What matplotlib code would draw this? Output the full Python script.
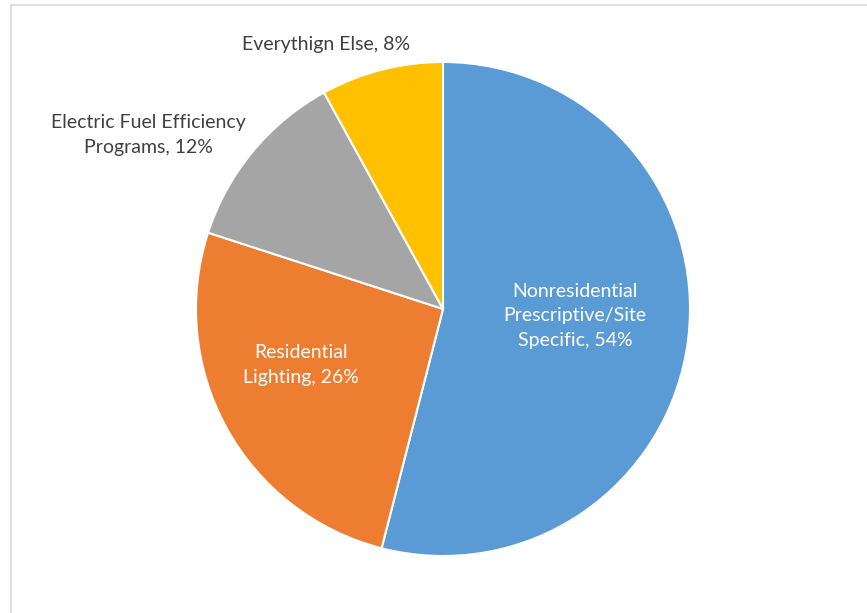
import matplotlib
matplotlib.use("Agg")
import matplotlib.pyplot as plt
from matplotlib.lines import Line2D

# data
labels = ["Nonresidential\nPrescriptive/Site\nSpecific, 54%",
          "Residential\nLighting, 26%",
          "Electric Fuel Efficiency\nPrograms, 12%",
          "Everythign Else, 8%"]
shares = [54, 26, 12, 8]
colors = ["#5B9BD5", "#ED7D31", "#A5A5A5", "#FFC000"]

# label placement (data coords, pie radius = 1)
label_pos = [(0.534, -0.028), (-0.575, -0.227), (-1.194, 0.704), (-0.474, 1.069)]
label_col = ["white", "white", "#404040", "#404040"]

plt.rcParams['font.family'] = ['Lato', 'DejaVu Sans']

fig = plt.figure(figsize=(8.67, 6.13), dpi=100)
ax = fig.add_axes([196 / 867, 57 / 613, 494 / 867, 494 / 613])
ax.pie(shares, colors=colors, startangle=90, counterclock=False,
       wedgeprops=dict(edgecolor="white", linewidth=1.5))
ax.set_xlim(-1.0, 1.0)
ax.set_ylim(-1.0, 1.0)
ax.set_aspect("equal")

for txt, (x, y), c in zip(labels, label_pos, label_col):
    ax.text(x, y, txt, ha="center", va="center", color=c, fontsize=14,
            linespacing=1.55, clip_on=False)

# chart area border (partly cropped in the original)
fig.add_artist(Line2D([11 / 867, 11 / 867], [0, 1 - 5 / 613], color="#D9D9D9", lw=1.2))
fig.add_artist(Line2D([11 / 867, 1], [1 - 5 / 613, 1 - 5 / 613], color="#D9D9D9", lw=1.2))

fig.savefig("out.png", dpi=100)
